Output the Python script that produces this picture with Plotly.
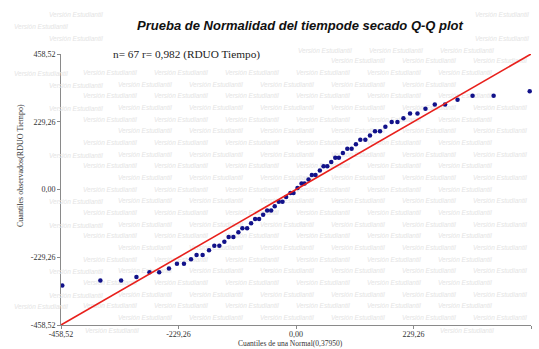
import plotly.graph_objects as go

# ---- data ----
normal_quantiles = [-456.0, -381.7, -341.2, -311.3, -285.9, -266.9, -247.9, -232.3, -218.6, -204.9,
                    -194.0, -182.2, -169.7, -159.4, -149.6, -139.8, -131.4, -122.2, -112.4, -104.6,
                    -95.4, -87.6, -79.8, -72.0, -64.1, -56.3, -48.5, -41.5, -33.6, -26.4,
                    -19.2, -10.8, -4.9, 2.9, 10.8, 16.6, 24.4, 30.9, 38.1, 46.5,
                    53.8, 61.0, 68.8, 76.6, 83.7, 91.5, 100.1, 108.5, 116.9, 125.5,
                    135.3, 144.3, 154.1, 163.9, 174.4, 186.7, 197.9, 209.6, 222.5, 237.0,
                    252.6, 270.8, 290.9, 315.2, 344.5, 385.6, 456.0]
observed_quantiles = [-324.5, -308.0, -308.0, -296.5, -280.0, -280.0, -267.5, -251.0, -251.0, -236.0,
                      -221.5, -221.5, -205.5, -190.0, -190.0, -176.5, -161.0, -161.0, -145.0, -131.5,
                      -131.5, -114.5, -100.0, -100.0, -85.5, -70.8, -70.8, -56.3, -41.8, -41.8,
                      -25.0, -11.5, -11.5, 5.3, 20.0, 20.0, 33.6, 49.1, 49.1, 63.9,
                      78.4, 78.4, 92.9, 107.8, 107.8, 123.3, 138.2, 138.2, 152.7, 168.5,
                      168.5, 183.0, 197.5, 197.5, 212.4, 228.0, 228.0, 241.4, 257.2, 257.2,
                      273.1, 287.5, 287.5, 303.5, 317.0, 317.0, 332.5]
ref_line_x = [-458.52, 458.52]
ref_line_y = [-458.52, 458.52]
tick_vals = [-458.52, -229.26, 0.0, 229.26, 458.52]
tick_text = ["-458,52", "-229,26", "0,00", "229,26", "458,52"]

title_text = "Prueba de Normalidad del tiempode secado Q-Q plot"
stats_text = "n= 67 r= 0,982 (RDUO Tiempo)"
x_title = "Cuantiles de una Normal(0,37950)"
y_title = "Cuantiles observados(RDUO Tiempo)"
watermark = "Versión Estudiantil"

# ---- geometry ----
W, H = 539, 349
L, R, T, B = 61, 8, 54, 24
PW, PH = W - L - R, H - T - B
lo, hi = tick_vals[0], tick_vals[-1]


def px_to_data(px, py):
    return (lo + (px - L) / PW * (hi - lo), hi - (py - T) / PH * (hi - lo))


def data_to_px(x, y):
    return (L + (x - lo) / (hi - lo) * PW, T + (hi - y) / (hi - lo) * PH)


# boxes of the other texts (pixels), so the faint watermark does not sit on them
busy = [(130, 15, 472, 35),      # title
        (105, 44, 270, 64),      # stats text
        (10, 92, 28, 240),       # y title
        (228, 335, 352, 349)]    # x title
for tp in [54, 122, 189, 257, 325]:
    busy.append((26, tp - 7, 60, tp + 7))
for tp in [61, 178, 296, 413, 531]:
    busy.append((tp - 20, 326, tp + 20, 339))
# keep the watermark annotations (drawn above traces) off the data points near the edges
for xv, yv in zip(normal_quantiles, observed_quantiles):
    pxp, pyp = data_to_px(xv, yv)
    if pxp < L + 10 or pxp > L + PW - 10:
        busy.append((pxp - 4, pyp - 4, pxp + 4, pyp + 4))

WM_W, WM_H = 56, 8
WM_FONT = dict(family="Liberation Sans", size=6.5, color="#e4e4e4", style="italic")


def free(x0, y0):
    x1, y1 = x0 + WM_W, y0 + WM_H
    if x0 < 1 or x1 > W - 1 or y0 < 1 or y1 > H - 1:
        return False
    for bx0, by0, bx1, by1 in busy:
        if x0 < bx1 and x1 > bx0 and y0 < by1 and y1 > by0:
            return False
    return True


wm_x, wm_y = [], []
wm_annots = []
for k in range(29):
    py = 15 + 11.67 * k
    start = -24 if k % 2 == 0 else 12
    for n in range(9):
        px = start + 71 * n
        if not free(px, py - WM_H / 2):
            continue
        if L + 1 <= px <= L + PW - 1 and T + 1 <= py <= T + PH - 1:
            dx, dy = px_to_data(px, py)
            wm_x.append(dx)
            wm_y.append(dy)
        else:
            wm_annots.append(dict(text=watermark, xref="paper", yref="paper",
                                  x=(px - L) / PW, y=(T + PH - py) / PH,
                                  xanchor="left", yanchor="middle", showarrow=False,
                                  font=WM_FONT))

fig = go.Figure()
fig.add_trace(go.Scatter(
    x=wm_x, y=wm_y, mode="text", text=[watermark] * len(wm_x),
    textposition="middle right", cliponaxis=False, hoverinfo="skip",
    textfont=WM_FONT, showlegend=False))
fig.add_trace(go.Scatter(
    x=normal_quantiles, y=observed_quantiles, mode="markers",
    marker=dict(size=4.5, color="#12128a"), cliponaxis=False, showlegend=False))
fig.add_trace(go.Scatter(
    x=ref_line_x, y=ref_line_y, mode="lines",
    line=dict(color="#e8201c", width=1.6), cliponaxis=False, showlegend=False))

axis_common = dict(
    range=[lo, hi], tickvals=tick_vals, ticktext=tick_text,
    showline=True, linecolor="#8a8a8a", linewidth=1,
    ticks="outside", ticklen=3, tickcolor="#8a8a8a",
    showgrid=False, zeroline=False,
    tickfont=dict(family="Liberation Serif", size=8, color="#333333"),
)

fig.update_layout(
    width=W, height=H,
    margin=dict(l=L, r=R, t=T, b=B, pad=0),
    paper_bgcolor="white", plot_bgcolor="rgba(0,0,0,0)",
    xaxis=dict(**axis_common, ticklabelstandoff=-2),
    yaxis=dict(**axis_common),
    title=dict(text=title_text, x=300 / W, xanchor="center", y=1 - 25 / H, yanchor="middle",
               xref="container", yref="container",
               font=dict(family="Liberation Sans", size=13, color="#111111",
                         weight="bold", style="italic")),
    annotations=wm_annots + [
        dict(text=stats_text, xref="paper", yref="paper", x=(111 - L) / PW, y=1.0,
             xanchor="left", yanchor="middle", showarrow=False,
             font=dict(family="Liberation Serif", size=11.3, color="#222222")),
        dict(text=x_title, xref="paper", yref="paper", x=(290 - L) / PW, y=(T + PH - 343) / PH,
             xanchor="center", yanchor="middle", showarrow=False,
             font=dict(family="Liberation Serif", size=7.5, color="#333333")),
        dict(text=y_title, xref="paper", yref="paper", x=(20 - L) / PW, y=(T + PH - 166) / PH,
             xanchor="center", yanchor="middle", showarrow=False, textangle=-90,
             font=dict(family="Liberation Serif", size=8, color="#333333")),
    ],
    showlegend=False,
)

fig.write_html("out.html")
